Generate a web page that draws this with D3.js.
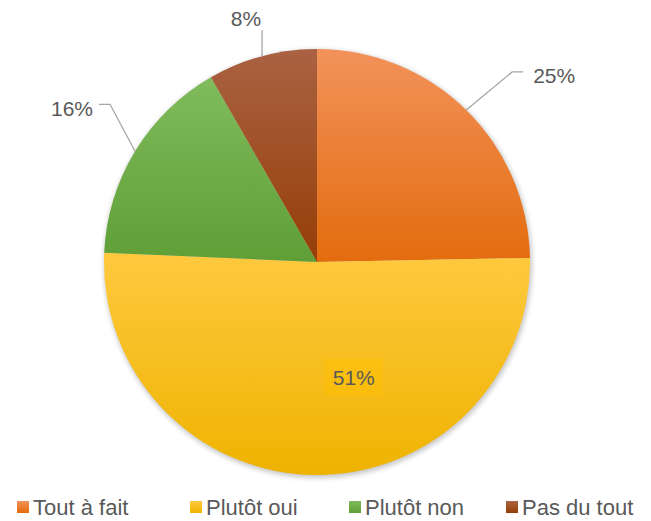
<!DOCTYPE html>
<html>
<head>
<meta charset="utf-8">
<script src="https://cdn.jsdelivr.net/npm/d3@7"></script>
<style>
  body { margin: 0; background: #fff; }
  text { font-family: "Liberation Sans", Arial, sans-serif; fill: #595959; }
</style>
</head>
<body>
<script>
const categories = ["Tout à fait", "Plutôt oui", "Plutôt non", "Pas du tout"];
const values = [24.7, 51.0, 16.0, 8.3];
const labels = ["25%", "51%", "16%", "8%"];
const colorsTop = ["#F2925A", "#FFC93F", "#80BB5C", "#AA6243"];
const colorsBottom = ["#E36C0E", "#EEB300", "#5F9F36", "#953E06"];

const width = 651, height = 521;
const cx = 317, cy = 262, r = 213;

const svg = d3.create("svg").attr("width", width).attr("height", height);
const defs = svg.append("defs");

// gradients per slice (top light -> bottom dark)
categories.forEach((c, i) => {
  const lg = defs.append("linearGradient").attr("id", "grad" + i)
    .attr("x1", 0).attr("y1", 0).attr("x2", 0).attr("y2", 1);
  lg.append("stop").attr("offset", "0%").attr("stop-color", colorsTop[i]);
  lg.append("stop").attr("offset", "100%").attr("stop-color", colorsBottom[i]);
});

const shadow = defs.append("filter").attr("id", "shadow")
  .attr("x", "-10%").attr("y", "-10%").attr("width", "120%").attr("height", "120%");
shadow.append("feGaussianBlur").attr("stdDeviation", 2.5);

const pie = d3.pie().sort(null).value(d => d);
const arcs = pie(values);
const arc = d3.arc().innerRadius(0).outerRadius(r);

const g = svg.append("g").attr("transform", `translate(${cx},${cy})`);

// soft shadow under the pie
g.append("circle").attr("cx", 1).attr("cy", 2).attr("r", r + 1)
  .attr("fill", "#999").attr("opacity", 0.55).attr("filter", "url(#shadow)");

g.selectAll("path.slice").data(arcs).join("path")
  .attr("class", "slice")
  .attr("d", arc)
  .attr("fill", (d, i) => `url(#grad${i})`);

// leader lines + outside labels
function edge(d) {
  const a = (d.startAngle + d.endAngle) / 2;
  return [r * Math.sin(a), -r * Math.cos(a)];
}
const outside = [
  { i: 0, pts: [[0, 0], [46, -38], [57, -38]], ty: 11, anchor: "start" },
  { i: 2, pts: [[0, 0], [-25, -47], [-36, -47]], ty: 12, anchor: "end" },
  { i: 3, pts: [[0, 0], [0, -26]], ty: -30, anchor: "end" }
];
outside.forEach(o => {
  const [ex, ey] = edge(arcs[o.i]);
  const last = o.pts[o.pts.length - 1];
  g.append("path")
    .attr("d", d3.line()(o.pts.map(p => [ex + p[0], ey + p[1]])))
    .attr("fill", "none").attr("stroke", "#A5A5A5").attr("stroke-width", 1.3);
  g.append("text")
    .attr("x", ex + (o.anchor === "start" ? last[0] + 10 : (o.i === 3 ? -1 : last[0] - 6)))
    .attr("y", ey + (o.i === 3 ? o.ty : last[1] + o.ty))
    .attr("text-anchor", o.anchor)
    .attr("font-size", 21)
    .text(labels[o.i]);
});

// inside label for the big slice
const mid = arcs[1];
const ia = (mid.startAngle + mid.endAngle) / 2 - 0.32;
const lx = 0.57 * r * Math.sin(ia), ly = -0.57 * r * Math.cos(ia);
g.append("rect").attr("x", lx - 29).attr("y", ly - 19).attr("width", 58).attr("height", 37)
  .attr("fill", "#FFC000").attr("opacity", 0.45);
g.append("text").attr("x", lx).attr("y", ly + 7).attr("text-anchor", "middle")
  .attr("font-size", 21).text(labels[1]);

// legend
const legendX = [17, 190, 349, 506];
const leg = svg.append("g");
categories.forEach((c, i) => {
  leg.append("rect").attr("x", legendX[i]).attr("y", 501).attr("width", 12).attr("height", 12)
    .attr("fill", `url(#grad${i})`);
  leg.append("text").attr("x", legendX[i] + 16).attr("y", 515)
    .attr("font-size", 22).text(c);
});

d3.select("body").append(() => svg.node());
</script>
</body>
</html>
